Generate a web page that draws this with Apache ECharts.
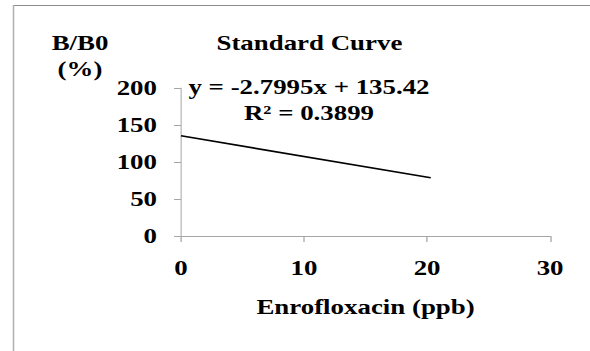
<!DOCTYPE html>
<html>
<head>
<meta charset="utf-8">
<script src="https://cdn.jsdelivr.net/npm/echarts@6/dist/echarts.min.js"></script>
<style>
  html, body { margin: 0; padding: 0; background: #fff; overflow: hidden; }
  /* the reference is a horizontally stretched Excel picture, so stretch the same way */
  #main { width: 461px; height: 351px; transform: scaleX(1.28); transform-origin: 0 0; }
</style>
</head>
<body>
<div id="main"></div>
<script>
// trendline end points (x in ppb, y in %)
const trendX = [0, 20.3];
const trendY = [135.4, 78.6];
const xTicks = [0, 10, 20, 30];
const yTicks = [0, 50, 100, 150, 200];
const equation = 'y = -2.7995x + 135.42';
const rSquared = 'R² = 0.3899';

const SX = 1.28; // horizontal stretch
const font = 'Liberation Serif';
const chart = echarts.init(document.getElementById('main'), null, { renderer: 'svg' });

const textStyle = { fontFamily: font, fontWeight: 'bold', fontSize: 21, color: '#000' };

function label(text, x, y) {
    return {
        type: 'text', x: x / SX, y: y,
        style: { text: text, fontFamily: font, fontWeight: 'bold', fontSize: 21, fill: '#000', align: 'center', verticalAlign: 'middle' }
    };
}

const option = {
    backgroundColor: '#fff',
    animation: false,
    title: {
        text: 'Standard Curve',
        left: 303 / SX,
        top: 28,
        textAlign: 'center',
        textStyle: textStyle
    },
    grid: { left: 181 / SX, right: 40 / SX, top: 88, bottom: 115 },
    xAxis: {
        type: 'value',
        min: xTicks[0],
        max: xTicks[xTicks.length - 1],
        interval: 10,
        name: 'Enrofloxacin (ppb)',
        nameLocation: 'middle',
        nameGap: 61,
        nameTextStyle: textStyle,
        axisLine: { lineStyle: { color: '#a6a6a6', width: 1 } },
        axisTick: { show: true, length: 6, lineStyle: { color: '#a6a6a6' } },
        axisLabel: Object.assign({ margin: 22 }, textStyle),
        splitLine: { show: false }
    },
    yAxis: {
        type: 'value',
        min: yTicks[0],
        max: yTicks[yTicks.length - 1],
        interval: 50,
        axisLine: { show: true, lineStyle: { color: '#a6a6a6', width: 0.8 } },
        axisTick: { show: true, length: 7 / SX, lineStyle: { color: '#a6a6a6' } },
        axisLabel: Object.assign({ margin: 24 / SX }, textStyle),
        splitLine: { show: false }
    },
    graphic: [
        // outer frame: top and left edges only
        { type: 'line', shape: { x1: 13 / SX, y1: 5.5, x2: 461, y2: 5.5 }, style: { stroke: '#8c8c8c', lineWidth: 1.2 } },
        { type: 'line', shape: { x1: 13.5 / SX, y1: 5, x2: 13.5 / SX, y2: 351 }, style: { stroke: '#b0b0b0', lineWidth: 1.2 } },
        label('B/B0', 80, 43),
        label('(%)', 80, 69),
        label(equation, 309, 87),
        label(rSquared, 309, 113)
    ],
    series: [{
        type: 'line',
        data: trendX.map((x, i) => [x, trendY[i]]),
        showSymbol: false,
        lineStyle: { color: '#000', width: 1.6 },
        silent: true
    }]
};

chart.setOption(option);
</script>
</body>
</html>
